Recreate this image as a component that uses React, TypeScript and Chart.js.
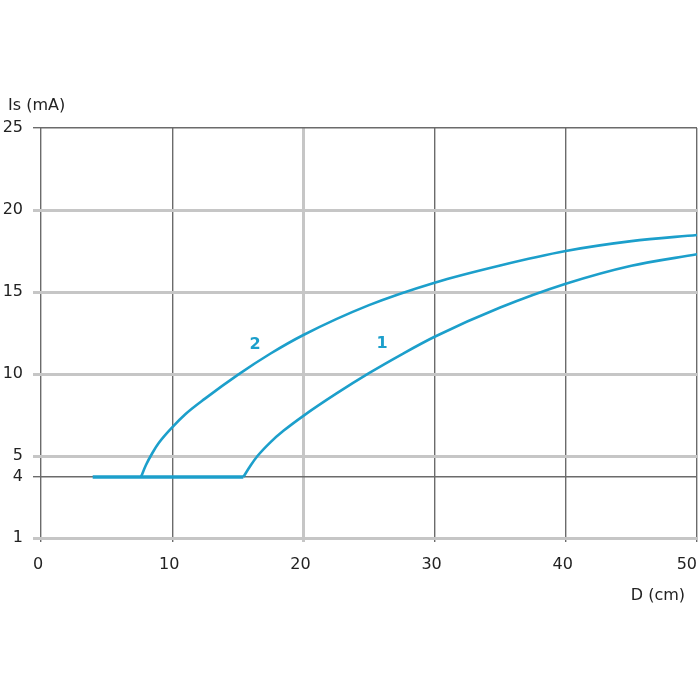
import React, { useEffect, useRef } from "react";
import { Chart, registerables } from "chart.js";

Chart.register(...registerables);

// ---- data ----
const curve1X = [15.42, 16, 16.5, 17.5, 18.5, 20, 22.5, 25, 27.5, 30, 35, 40, 45, 50];
const curve1Y = [3.72, 4.45, 5.0, 5.85, 6.55, 7.45, 8.8, 10.05, 11.2, 12.27, 14.05, 15.5, 16.6, 17.3];

const curve2X = [7.62, 8.0, 8.5, 9, 10, 11, 12.5, 15, 17.5, 20, 25, 30, 35, 40, 45, 50];
const curve2Y = [3.72, 4.45, 5.2, 5.82, 6.75, 7.55, 8.5, 9.95, 11.25, 12.38, 14.2, 15.57, 16.62, 17.5, 18.1, 18.48];

const baseX = [3.94, 15.42];
const baseY = [3.72, 3.72];

const xTickValues = [0, 10, 20, 30, 40, 50];
const xTickLabels = ["0", "10", "20", "30", "40", "50"];
const yTickValues = [0, 3.72, 5, 10, 15, 20, 25];
const yTickLabels = ["1", "4", "5", "10", "15", "20", "25"];

const curveLabelText = ["1", "2"];
const curveLabelX = [25.99, 16.31];
const curveLabelY = [11.83, 11.77];

const xTitle = "D (cm)";
const yTitle = "Is (mA)";

const BLUE = "#1c9fcb";
const DARK = "#6b6b6b";
const LIGHT = "#c6c6c6";
const FONT = '"DejaVu Sans", sans-serif';

const toPts = (xs: number[], ys: number[]) => xs.map((x, i) => ({ x, y: ys[i] }));

export default function App() {
  const ref = useRef<HTMLCanvasElement | null>(null);

  useEffect(() => {
    document.body.style.margin = "0";
    const canvas = ref.current;
    if (!canvas) return;

    const textPlugin = {
      id: "texts",
      afterDraw(chart: any) {
        const ctx = chart.ctx;
        const xs = chart.scales.x;
        const ys = chart.scales.y;
        ctx.save();
        ctx.fillStyle = "#222";
        ctx.font = `16px ${FONT}`;
        ctx.textBaseline = "alphabetic";
        // x tick labels
        xTickValues.forEach((v, i) => {
          const px = xs.getPixelForValue(v);
          const last = i === xTickValues.length - 1;
          ctx.textAlign = last ? "right" : "center";
          ctx.fillText(xTickLabels[i], last ? px : px - 3, chart.chartArea.bottom + 31);
        });
        // axis titles
        ctx.textAlign = "left";
        ctx.fillText(yTitle, 8, 110);
        ctx.textAlign = "right";
        ctx.fillText(xTitle, 685, 600);
        // curve labels
        ctx.fillStyle = BLUE;
        ctx.font = `bold 16px ${FONT}`;
        ctx.textAlign = "center";
        ctx.textBaseline = "middle";
        curveLabelText.forEach((t, i) => {
          ctx.fillText(t, xs.getPixelForValue(curveLabelX[i]), ys.getPixelForValue(curveLabelY[i]));
        });
        ctx.restore();
      },
    };

    const chart = new Chart(canvas, {
      type: "scatter",
      data: {
        datasets: [
          {
            label: "base",
            data: toPts(baseX, baseY),
            showLine: true,
            borderColor: BLUE,
            borderWidth: 3.5,
            pointRadius: 0,
            borderCapStyle: "butt",
          },
          {
            label: "1",
            data: toPts(curve1X, curve1Y),
            showLine: true,
            borderColor: BLUE,
            borderWidth: 2.6,
            pointRadius: 0,
            cubicInterpolationMode: "monotone",
          },
          {
            label: "2",
            data: toPts(curve2X, curve2Y),
            showLine: true,
            borderColor: BLUE,
            borderWidth: 2.6,
            pointRadius: 0,
            cubicInterpolationMode: "monotone",
          },
        ],
      },
      options: {
        animation: false,
        responsive: false,
        maintainAspectRatio: false,
        layout: { padding: { top: 128, right: 3, left: 0, bottom: 0 } },
        plugins: {
          legend: { display: false },
          tooltip: { enabled: false },
          title: { display: false },
        },
        scales: {
          x: {
            type: "linear",
            min: 0,
            max: 50,
            afterBuildTicks: (s: any) => {
              s.ticks = xTickValues.map((v) => ({ value: v }));
            },
            afterFit: (s: any) => {
              s.height = 162;
            },
            ticks: { display: false },
            border: { display: false },
            grid: {
              drawTicks: true,
              tickLength: 4,
              color: (c: any) => (c.tick && c.tick.value === 20 ? LIGHT : DARK),
              lineWidth: (c: any) => (c.tick && c.tick.value === 20 ? 3 : 1.4),
            },
          },
          y: {
            type: "linear",
            min: 0,
            max: 25,
            afterBuildTicks: (s: any) => {
              s.ticks = yTickValues.map((v) => ({ value: v }));
            },
            afterFit: (s: any) => {
              s.width = 41;
            },
            border: { display: false },
            ticks: {
              padding: 10,
              color: "#222",
              font: { family: FONT, size: 16 },
              callback: (_v: any, i: number) => yTickLabels[i],
            },
            grid: {
              drawTicks: true,
              tickLength: 8,
              color: (c: any) => {
                const v = c.tick ? c.tick.value : 0;
                return v === 25 || v === 3.72 ? DARK : LIGHT;
              },
              lineWidth: (c: any) => {
                const v = c.tick ? c.tick.value : 0;
                return v === 25 || v === 3.72 ? 1.4 : 3;
              },
            },
          },
        },
      },
      plugins: [textPlugin],
    } as any);

    return () => chart.destroy();
  }, []);

  return (
    <div style={{ width: 700, height: 700 }}>
      <canvas ref={ref} width={700} height={700} />
    </div>
  );
}
